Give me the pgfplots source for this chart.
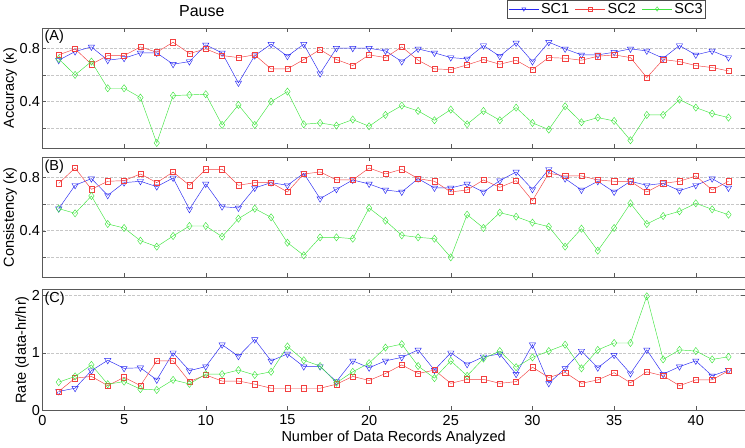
\documentclass[border=0pt]{standalone}
\usepackage{fontspec}
\setmainfont{Liberation Sans}
\usepackage{pgfplots}
\usepackage{pgfplotstable}
\pgfplotsset{compat=1.18}

% panel A: accuracy
\pgfplotstableread{
x a b c
1 0.71 0.75 0.72
2 0.775 0.795 0.60
3 0.81 0.68 0.70
4 0.71 0.745 0.50
5 0.725 0.745 0.50
6 0.765 0.81 0.43
7 0.765 0.77 0.09
8 0.68 0.845 0.445
9 0.70 0.76 0.45
10 0.825 0.795 0.455
11 0.765 0.745 0.225
12 0.54 0.73 0.375
13 0.745 0.75 0.225
14 0.83 0.645 0.40
15 0.74 0.645 0.475
16 0.83 0.715 0.23
17 0.61 0.79 0.24
18 0.80 0.715 0.22
19 0.80 0.67 0.265
20 0.80 0.75 0.215
21 0.78 0.73 0.30
22 0.70 0.81 0.37
23 0.795 0.71 0.33
24 0.765 0.645 0.26
25 0.73 0.64 0.34
26 0.72 0.675 0.23
27 0.82 0.715 0.33
28 0.74 0.68 0.26
29 0.84 0.71 0.355
30 0.70 0.64 0.24
31 0.845 0.73 0.19
32 0.795 0.725 0.365
33 0.75 0.71 0.245
34 0.75 0.74 0.28
35 0.77 0.75 0.255
36 0.795 0.73 0.11
37 0.78 0.58 0.30
38 0.725 0.715 0.30
39 0.82 0.70 0.415
40 0.75 0.67 0.355
41 0.78 0.655 0.31
42 0.73 0.63 0.28
}\accdata

% panel B: consistency
\pgfplotstableread{
x a b c
1 0.565 0.755 0.565
2 0.74 0.87 0.53
3 0.79 0.71 0.66
4 0.665 0.77 0.45
5 0.76 0.775 0.42
6 0.77 0.825 0.325
7 0.73 0.76 0.28
8 0.795 0.84 0.36
9 0.56 0.74 0.435
10 0.75 0.86 0.435
11 0.58 0.86 0.355
12 0.57 0.74 0.49
13 0.72 0.76 0.565
14 0.76 0.76 0.50
15 0.74 0.69 0.31
16 0.83 0.825 0.215
17 0.64 0.84 0.35
18 0.71 0.78 0.35
19 0.78 0.78 0.34
20 0.75 0.87 0.57
21 0.705 0.825 0.475
22 0.69 0.86 0.365
23 0.79 0.79 0.35
24 0.72 0.77 0.34
25 0.72 0.69 0.20
26 0.75 0.705 0.52
27 0.69 0.78 0.42
28 0.775 0.725 0.535
29 0.84 0.775 0.505
30 0.71 0.625 0.46
31 0.86 0.83 0.43
32 0.79 0.81 0.28
33 0.705 0.81 0.415
34 0.77 0.78 0.25
35 0.69 0.77 0.42
36 0.77 0.77 0.605
37 0.74 0.69 0.45
38 0.755 0.755 0.51
39 0.70 0.77 0.545
40 0.74 0.81 0.605
41 0.79 0.705 0.56
42 0.72 0.77 0.52
}\consdata

% panel C: rate
\pgfplotstableread{
x a b c
1 0.33 0.33 0.49
2 0.385 0.56 0.59
3 0.69 0.59 0.79
4 0.87 0.43 0.455
5 0.73 0.575 0.50
6 0.74 0.43 0.37
7 0.53 0.86 0.355
8 1.00 0.86 0.53
9 0.69 0.50 0.46
10 0.76 0.615 0.63
11 1.14 0.51 0.63
12 0.94 0.51 0.70
13 1.23 0.455 0.615
14 0.86 0.385 0.67
15 0.98 0.385 1.11
16 0.76 0.385 0.87
17 0.76 0.385 0.77
18 0.50 0.455 0.48
19 0.86 0.59 0.67
20 0.74 0.52 0.82
21 0.86 0.64 1.09
22 0.92 0.79 1.15
23 1.05 0.64 0.77
24 0.70 0.70 0.56
25 1.00 0.47 0.86
26 0.80 0.54 0.60
27 0.93 0.54 0.90
28 0.98 0.47 1.03
29 0.63 0.50 0.75
30 1.14 0.75 0.92
31 0.47 0.57 1.03
32 0.73 0.66 1.14
33 1.03 0.47 0.73
34 0.74 0.53 1.05
35 0.96 0.655 1.17
36 0.64 0.48 1.17
37 1.05 0.67 1.98
38 0.63 0.60 0.885
39 0.76 0.43 1.05
40 0.86 0.53 1.03
41 0.60 0.53 0.885
42 0.70 0.69 0.93
}\ratedata

\definecolor{scone}{rgb}{0.15,0.15,0.95}
\definecolor{sctwo}{rgb}{0.95,0.25,0.25}
\definecolor{scthree}{rgb}{0.25,0.9,0.25}

\newcommand{\fs}{\fontsize{14.5}{16}\selectfont}

\pgfplotsset{
  panel/.style={
    scale only axis,
    width=702pt, height=120pt,
    xmin=0, xmax=43,
    xtick={0,5,...,40},
    tick align=inside,
    tick pos=both,
    major tick length=4pt,
    axis line style={black!65},
    tick style={black!65},
    ymajorgrids,
    major grid style={black!22, dash pattern=on 3pt off 1.5pt},
    clip mode=individual,
    /pgf/number format/assume math mode=true,
    tick label style={font=\fs},
    label style={font=\fs},
    xticklabel style={yshift=-1pt},
    yticklabel style={xshift=1pt},
    ylabel style={at={(axis description cs:-0.046,0.5)}, anchor=center},
  },
  sca/.style={scone, line width=0.45pt, mark=triangle, mark size=3.6pt, mark options={rotate=180, solid}},
  scb/.style={sctwo, line width=0.45pt, mark=square, mark size=2.6pt},
  scc/.style={scthree, line width=0.45pt, mark=diamond, mark size=3.6pt},
}

\begin{document}
\begin{tikzpicture}

% (A)
\begin{axis}[panel, at={(0,262pt)},
  ymin=0.05, ymax=0.95,
  ytick={0.2,0.4,0.6,0.8}, yticklabels={,0.4,,0.8},
  xticklabels={},
  ylabel={Accuracy (κ)},
  legend columns=3,
  legend style={at={(0.9445,1.235)}, anchor=north east, draw=black!70,
    font=\fs, inner sep=1pt,
    /tikz/every even column/.append style={column sep=4pt}},
  legend cell align=left,
  legend image code/.code={
    \draw[mark size=2.2pt] plot coordinates {(0pt,0pt)};
    \draw[mark=none] (-15pt,0pt) -- (15pt,0pt);
  },
]
\addplot[sca] table[x=x,y=a]{\accdata};
\addlegendentry{SC1}
\addplot[scb] table[x=x,y=b]{\accdata};
\addlegendentry{SC2}
\addplot[scc] table[x=x,y=c]{\accdata};
\addlegendentry{SC3}
\node[anchor=north west, inner sep=2pt, font=\fs] at (rel axis cs:0,1) {(A)};
\node[font=\fontsize{16}{18}\selectfont] at (rel axis cs:0.227,1.14) {Pause};
\end{axis}

% (B)
\begin{axis}[panel, at={(0,133pt)},
  ymin=0.05, ymax=0.95,
  ytick={0.2,0.4,0.6,0.8}, yticklabels={,0.4,,0.8},
  xticklabels={},
  ylabel={Consistency (κ)},
]
\addplot[sca] table[x=x,y=a]{\consdata};
\addplot[scb] table[x=x,y=b]{\consdata};
\addplot[scc] table[x=x,y=c]{\consdata};
\node[anchor=north west, inner sep=2pt, font=\fs] at (rel axis cs:0,1) {(B)};
\end{axis}

% (C)
\begin{axis}[panel, at={(0,0pt)},
  height=121pt,
  ymin=0, ymax=2.1,
  ytick={0,1,2},
  xlabel={Number of Data Records Analyzed},
  xlabel style={yshift=1pt},
  ylabel={Rate (data-hr/hr)},
  ylabel style={at={(axis description cs:-0.029,0.5)}, anchor=center},
]
\addplot[sca] table[x=x,y=a]{\ratedata};
\addplot[scb] table[x=x,y=b]{\ratedata};
\addplot[scc] table[x=x,y=c]{\ratedata};
\node[anchor=north west, inner sep=2pt, font=\fs] at (rel axis cs:0,1) {(C)};
\end{axis}

\end{tikzpicture}
\end{document}
